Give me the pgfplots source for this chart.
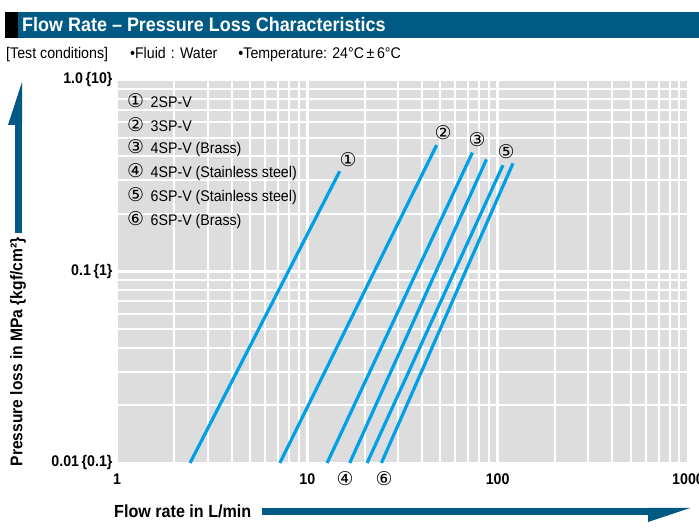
\documentclass[border=0pt]{standalone}
\usepackage{fontspec}
\setmainfont{Liberation Sans}[FakeStretch=0.92]
\newfontfamily\sym{DejaVu Sans}
\usepackage{pgfplots}
\pgfplotsset{compat=1.18}
\definecolor{barblue}{RGB}{0,90,132}
\definecolor{linecol}{RGB}{0,160,230}
\definecolor{bggray}{RGB}{221,221,221}
\begin{document}
\begin{tikzpicture}
\fill[white] (0,0) rectangle (699bp,529bp);
\begin{axis}[
    at={(117bp,66bp)}, anchor=south west,
    scale only axis, width=571bp, height=383bp,
    xmode=log, ymode=log,
    xmin=1, xmax=1000, ymin=0.01, ymax=1,
    axis background/.style={fill=bggray},
    axis line style={draw=none},
    grid=both,
    major grid style={white, line width=2.4bp},
    minor grid style={white, line width=2bp},
    major tick length=0, minor tick length=0,
    xtick={1,10,100,1000}, xticklabels={1,10,100,1000},
    minor xtick={2,3,4,5,6,7,8,9,20,30,40,50,60,70,80,90,200,300,400,500,600,700,800,900},
    ytick={0.01,0.1,1}, yticklabels={0.01\,\{0.1\}, 0.1\,\{1\}, 1.0\,\{10\}},
    minor ytick={0.02,0.03,0.04,0.05,0.06,0.07,0.08,0.09,0.2,0.3,0.4,0.5,0.6,0.7,0.8,0.9},
    ticklabel style={font=\fontsize{15.5}{17}\selectfont\bfseries},
    xticklabel style={yshift=-7bp},
    yticklabel style={xshift=-1bp},
    clip=false,
]
% lines
\addplot[linecol, line width=3.2bp] coordinates {(2.42,0.01) (14.8,0.334)};
\addplot[linecol, line width=3.2bp] coordinates {(7.17,0.01) (47.8,0.457)};
\addplot[linecol, line width=3.2bp] coordinates {(12.7,0.01) (73.7,0.418)};
\addplot[linecol, line width=3.2bp] coordinates {(16.7,0.01) (87.3,0.385)};
\addplot[linecol, line width=3.2bp] coordinates {(20.6,0.01) (106.6,0.359)};
\addplot[linecol, line width=3.2bp] coordinates {(24.5,0.01) (120.3,0.367)};
\end{axis}

\begin{scope}[x=1bp, y=1bp]
% title bar
\fill[black] (5,491) rectangle (17.5,517);
\fill[barblue] (17.5,491) rectangle (699,517);
\node[anchor=west, text=white, inner sep=0, font=\fontsize{19.6}{21}\selectfont\bfseries] at (22,504) {Flow Rate -- Pressure Loss Characteristics};
\node[anchor=west, inner sep=0, font=\fontsize{15.5}{17}\selectfont] at (6,474)
  {[Test conditions]\hspace{22bp}•Fluid\,\,:\,\,Water\hspace{21bp}•Temperature: 24°C\,±\,6°C};

% legend
\begin{scope}[every node/.style={anchor=west, inner sep=0, font=\fontsize{15.5}{17}\selectfont}]
\node at (127,428) {{\sym\fontsize{19}{19}\selectfont ①}\, 2SP-V};
\node at (127,404) {{\sym\fontsize{19}{19}\selectfont ②}\, 3SP-V};
\node at (127,381) {{\sym\fontsize{19}{19}\selectfont ③}\, 4SP-V (Brass)};
\node at (127,357) {{\sym\fontsize{19}{19}\selectfont ④}\, 4SP-V (Stainless steel)};
\node at (127,333) {{\sym\fontsize{19}{19}\selectfont ⑤}\, 6SP-V (Stainless steel)};
\node at (127,309) {{\sym\fontsize{19}{19}\selectfont ⑥}\, 6SP-V (Brass)};
\end{scope}

% curve numbers
\begin{scope}[every node/.style={inner sep=0, font=\sym\fontsize{19}{19}\selectfont}]
\node at (348,369) {①};
\node at (443,396) {②};
\node at (477,389) {③};
\node at (506,377) {⑤};
\node at (345,50) {④};
\node at (384,50) {⑥};
\end{scope}

% axis titles and arrows
\node[rotate=90, inner sep=0, font=\fontsize{17}{19}\selectfont\bfseries] at (18,177) {Pressure loss in MPa \{kgf/cm²\}};
\fill[barblue] (15,296) rectangle (22,404);
\fill[barblue] (8,404) -- (22,404) -- (22,447) -- cycle;
\node[anchor=west, inner sep=0, font=\fontsize{17.6}{19}\selectfont\bfseries] at (114,18) {Flow rate in L/min};
\fill[barblue] (262,14) rectangle (648,21);
\fill[barblue] (648,21) -- (690,21) -- (648,7) -- cycle;
\end{scope}

\pgfresetboundingbox
\useasboundingbox (0,0) rectangle (699bp,529bp);
\end{tikzpicture}
\end{document}
